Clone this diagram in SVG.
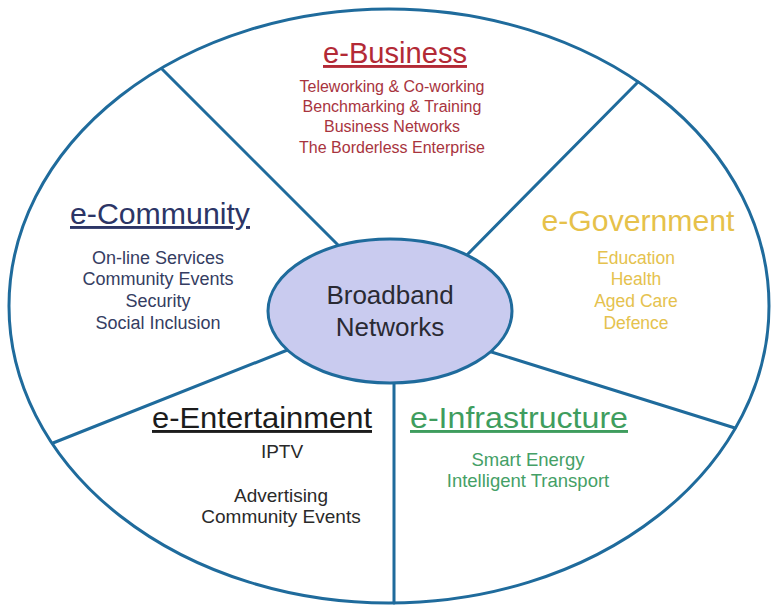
<svg xmlns="http://www.w3.org/2000/svg" width="773" height="608" viewBox="0 0 773 608">
<style>
.ln{stroke:#1f6b9c;stroke-width:3;fill:none;stroke-linecap:round}
text{font-family:"Liberation Sans",Arial,sans-serif;text-anchor:middle}
.t{font-size:29px;text-decoration:underline}
.b18{font-size:18px}
.bus{fill:#a8343e;font-size:16px}
.com{fill:#353d62}
.gov{fill:#e5c24e}
.ent{fill:#2a2a2a}
.inf{fill:#44a066}
</style>
<rect width="773" height="608" fill="#ffffff"/>
<g id="outer">
<ellipse class="ln" cx="389" cy="306" rx="380" ry="297"/>
</g>
<g id="connectors">
<line class="ln" x1="162" y1="69" x2="345" y2="252"/>
<line class="ln" x1="638" y1="82" x2="462" y2="260"/>
<line class="ln" x1="53" y1="443" x2="290" y2="349"/>
<line class="ln" x1="735" y1="428" x2="485" y2="350"/>
<line class="ln" x1="394" y1="370" x2="394" y2="603"/>
</g>
<g id="center">
<ellipse cx="390" cy="311" rx="122" ry="72" fill="#c9cbef" stroke="#1f6b9c" stroke-width="3"/>
<text x="390" y="304" font-size="26" fill="#2a2a33">Broadband</text>
<text x="390" y="336" font-size="26" fill="#2a2a33">Networks</text>
</g>
<g id="e-business">
<text class="t" x="395" y="63" fill="#b32a36" textLength="144" lengthAdjust="spacingAndGlyphs">e-Business</text>
<text class="bus" x="392" y="92">Teleworking  &amp; Co-working</text>
<text class="bus" x="392" y="112">Benchmarking &amp; Training</text>
<text class="bus" x="392" y="132">Business Networks</text>
<text class="bus" x="392" y="153">The Borderless Enterprise</text>
</g>
<g id="e-community">
<text class="t" x="160" y="224" fill="#2c3566" textLength="180" lengthAdjust="spacingAndGlyphs">e-Community</text>
<text class="b18 com" x="158" y="264">On-line  Services</text>
<text class="b18 com" x="158" y="285">Community Events</text>
<text class="b18 com" x="158" y="307">Security</text>
<text class="b18 com" x="158" y="329">Social  Inclusion</text>
</g>
<g id="e-government">
<text x="638" y="231" font-size="29" fill="#e6c14a" textLength="193" lengthAdjust="spacingAndGlyphs">e-Government</text>
<text class="gov" font-size="17.5" x="636" y="264">Education</text>
<text class="gov" font-size="17.5" x="636" y="285">Health</text>
<text class="gov" font-size="17.5" x="636" y="307">Aged Care</text>
<text class="gov" font-size="17.5" x="636" y="329">Defence</text>
</g>
<g id="e-entertainment">
<text class="t" x="262" y="428" fill="#1c1c1c" textLength="220" lengthAdjust="spacingAndGlyphs">e-Entertainment</text>
<text class="ent" font-size="19" x="282" y="458">IPTV</text>
<text class="ent" font-size="19" x="281" y="502">Advertising</text>
<text class="ent" font-size="19" x="281" y="523">Community Events</text>
</g>
<g id="e-infrastructure">
<text class="t" x="519" y="428" fill="#3f9d5e" textLength="218" lengthAdjust="spacingAndGlyphs">e-Infrastructure</text>
<text class="inf" font-size="18.5" x="528" y="466">Smart Energy</text>
<text class="inf" font-size="18.5" x="528" y="487">Intelligent  Transport</text>
</g>
</svg>
